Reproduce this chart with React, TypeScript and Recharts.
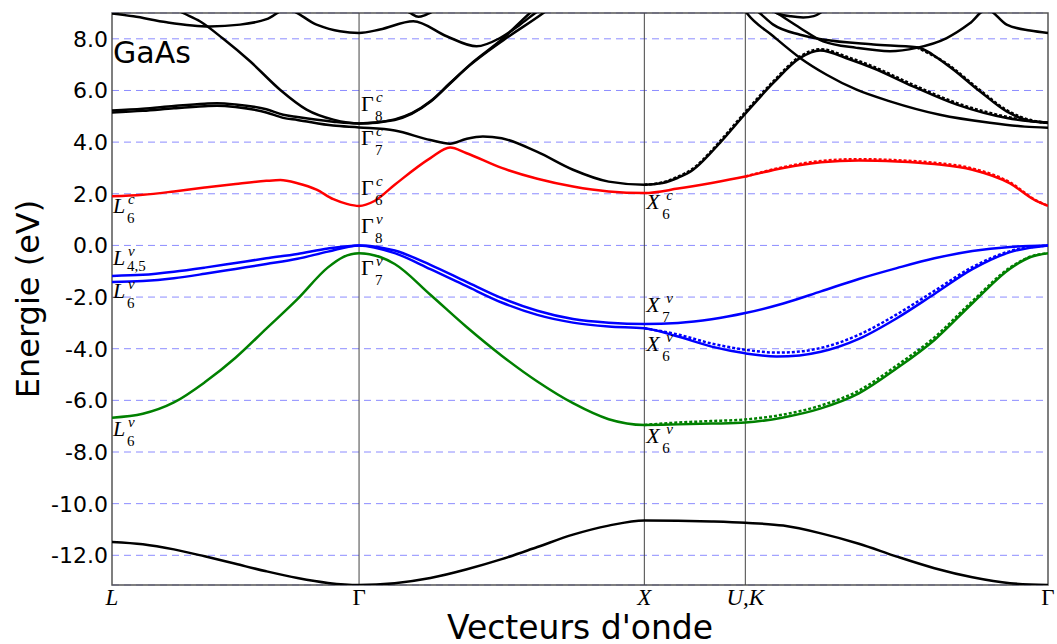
import React from 'react';
import { LineChart, Line, XAxis, YAxis, CartesianGrid, ReferenceLine, ReferenceArea, ReferenceDot } from 'recharts';

type Pt = [number, number];

// path L - Γ - X - U,K - Γ, k in units of 2π/a
const kTicks = [0, 0.866, 1.866, 2.22, 3.281];
const kNames = ['L', 'Γ', 'X', 'U,K', 'Γ'];
const eTicks = [-12, -10, -8, -6, -4, -2, 0, 2, 4, 6, 8];

// black bands
const lowBand: Pt[] = [
  [0, -11.48], [0.108, -11.57], [0.217, -11.77], [0.325, -12.04], [0.433, -12.33], [0.541, -12.62], [0.65, -12.88], [0.757, -13.07], [0.866, -13.15],
  [0.991, -13.08], [1.116, -12.88], [1.241, -12.55], [1.366, -12.15], [1.491, -11.68], [1.616, -11.2], [1.741, -10.85], [1.866, -10.65],
  [1.984, -10.66], [2.102, -10.69], [2.22, -10.74],
  [2.353, -10.85], [2.485, -11.15], [2.618, -11.55], [2.751, -12.05], [2.883, -12.5], [3.016, -12.85], [3.148, -13.08], [3.281, -13.15],
];
const gamma7cBand: Pt[] = [
  [0, 5.15], [0.108, 5.21], [0.217, 5.31], [0.325, 5.39], [0.368, 5.41], [0.433, 5.36], [0.541, 5.15], [0.6, 4.94], [0.65, 4.86], [0.775, 4.64], [0.866, 4.57],
  [0.991, 4.45], [1.116, 4.08], [1.185, 3.94], [1.241, 4.12], [1.3, 4.22], [1.366, 4.15], [1.491, 3.62], [1.616, 2.93], [1.741, 2.47], [1.866, 2.35],
  [1.93, 2.42], [1.984, 2.62], [2.037, 2.93], [2.102, 3.62], [2.131, 3.97], [2.22, 5.1],
  [2.318, 6.29], [2.412, 7.26], [2.482, 7.55], [2.587, 7.2], [2.667, 6.87], [2.808, 6.16], [2.962, 5.45], [3.137, 4.93], [3.281, 4.74],
];
const gamma7cDashed: Pt[] = [
  [1.866, 2.35], [1.93, 2.44], [1.984, 2.66], [2.037, 2.98], [2.102, 3.67], [2.131, 4.03], [2.22, 5.16],
  [2.318, 6.35], [2.412, 7.32], [2.482, 7.6], [2.587, 7.26], [2.667, 6.93], [2.808, 6.22], [2.962, 5.51], [3.137, 4.98], [3.281, 4.74],
];
const gamma8cBand: Pt[] = [
  [0, 5.22], [0.108, 5.29], [0.217, 5.4], [0.325, 5.49], [0.368, 5.51], [0.433, 5.46], [0.541, 5.27], [0.6, 5.06], [0.65, 4.97], [0.775, 4.79], [0.866, 4.72],
  [0.991, 4.88], [1.116, 5.58], [1.185, 6.29], [1.255, 7.0], [1.372, 8.03], [1.465, 9.0], [1.6, 10.2], [1.866, 11],
];
const upperB: Pt[] = [
  [0, 10.6], [0.15, 9.6], [0.249, 9.0], [0.308, 8.68], [0.39, 8.0], [0.484, 7.13], [0.589, 6.03], [0.682, 5.26], [0.776, 4.87], [0.866, 4.72],
  [0.991, 4.86], [1.116, 5.56], [1.185, 6.27], [1.255, 6.98], [1.372, 7.95], [1.512, 9.0], [1.65, 10.2], [1.866, 11],
];
const upperAC: Pt[] = [
  [0, 8.98], [0.075, 8.87], [0.192, 8.64], [0.343, 8.48], [0.449, 8.55], [0.542, 8.76], [0.612, 9.14], [0.717, 8.55], [0.799, 8.29], [0.866, 8.23],
  [0.939, 8.36], [1.056, 8.68], [1.173, 8.1], [1.278, 7.71], [1.36, 8.03], [1.43, 8.55], [1.49, 9.05], [1.65, 10], [1.866, 10.8],
];
const upperD: Pt[] = [[1.0, 9.3], [1.045, 9.0], [1.074, 8.85], [1.1, 8.93], [1.115, 9.0], [1.15, 9.3]];
const upperT: Pt[] = [
  [2.2, 9.8], [2.33, 9.0], [2.412, 8.42], [2.493, 7.9], [2.61, 7.65], [2.727, 7.52], [2.82, 7.65], [2.926, 8.03], [3.007, 8.6], [3.066, 9.14],
  [3.136, 8.55], [3.218, 8.32], [3.281, 8.23],
];
const upperS: Pt[] = [
  [2.2, 9.6], [2.27, 9.0], [2.318, 8.55], [2.412, 8.16], [2.493, 7.97], [2.669, 7.78], [2.82, 7.67], [2.926, 7.0], [3.042, 5.97], [3.136, 5.19], [3.229, 4.8], [3.281, 4.76],
];
const upperSDashed: Pt[] = [[2.82, 7.67], [2.926, 7.04], [3.042, 6.02], [3.136, 5.24], [3.229, 4.83], [3.281, 4.76]];
const upperR: Pt[] = [
  [2.2, 9.4], [2.225, 9.0], [2.318, 8.1], [2.412, 7.26], [2.505, 6.61], [2.61, 6.03], [2.727, 5.58], [2.902, 5.06], [3.077, 4.75], [3.2, 4.6], [3.281, 4.56],
];
const upperArc: Pt[] = [[2.3, 9.3], [2.33, 9.0], [2.38, 8.87], [2.423, 8.83], [2.46, 8.88], [2.482, 9.0], [2.51, 9.3]];

// conduction band (red)
const redBand: Pt[] = [
  [0, 1.9], [0.108, 1.96], [0.217, 2.09], [0.325, 2.24], [0.433, 2.38], [0.541, 2.5], [0.59, 2.53], [0.65, 2.41], [0.717, 2.16], [0.776, 1.79], [0.823, 1.61], [0.866, 1.53],
  [0.92, 1.72], [0.991, 2.35], [1.116, 3.38], [1.185, 3.79], [1.241, 3.58], [1.366, 3.0], [1.491, 2.58], [1.616, 2.28], [1.741, 2.09], [1.866, 2.03],
  [1.984, 2.2], [2.102, 2.42], [2.22, 2.67],
  [2.353, 3.0], [2.485, 3.22], [2.618, 3.29], [2.751, 3.25], [2.883, 3.15], [3.016, 2.93], [3.148, 2.4], [3.235, 1.75], [3.281, 1.53],
];
const redDashed: Pt[] = [
  [2.22, 2.67], [2.353, 3.03], [2.485, 3.27], [2.618, 3.34], [2.751, 3.3], [2.883, 3.2], [3.016, 2.98], [3.148, 2.44], [3.235, 1.77], [3.281, 1.53],
];

// valence bands (blue)
const blueUpper: Pt[] = [
  [0, -1.18], [0.108, -1.14], [0.217, -1.02], [0.325, -0.86], [0.433, -0.68], [0.541, -0.5], [0.65, -0.33], [0.757, -0.12], [0.866, 0],
  [0.991, -0.2], [1.116, -0.75], [1.241, -1.4], [1.366, -2.04], [1.491, -2.53], [1.616, -2.85], [1.741, -2.99], [1.866, -3.04],
  [1.984, -3.0], [2.102, -2.86], [2.22, -2.62],
  [2.353, -2.25], [2.485, -1.78], [2.618, -1.3], [2.751, -0.88], [2.883, -0.5], [3.016, -0.22], [3.148, -0.06], [3.281, 0],
];
const blueLower: Pt[] = [
  [0, -1.42], [0.108, -1.38], [0.217, -1.27], [0.325, -1.1], [0.433, -0.91], [0.541, -0.72], [0.65, -0.52], [0.757, -0.24], [0.866, 0],
  [0.991, -0.3], [1.116, -0.92], [1.241, -1.57], [1.366, -2.21], [1.491, -2.69], [1.616, -2.99], [1.741, -3.14], [1.866, -3.21],
  [1.984, -3.53], [2.102, -3.92], [2.22, -4.18],
  [2.33, -4.3], [2.41, -4.26], [2.485, -4.12], [2.618, -3.62], [2.751, -2.82], [2.883, -1.88], [3.016, -0.92], [3.148, -0.26], [3.281, 0],
];
const blueDashed: Pt[] = [
  [1.866, -3.21], [1.984, -3.45], [2.102, -3.8], [2.22, -4.04],
  [2.33, -4.15], [2.41, -4.11], [2.485, -3.97], [2.618, -3.46], [2.751, -2.67], [2.883, -1.76], [3.016, -0.84], [3.148, -0.22], [3.281, 0],
];

// split-off band (green)
const greenBand: Pt[] = [
  [0, -6.67], [0.108, -6.52], [0.217, -6.08], [0.325, -5.3], [0.433, -4.35], [0.541, -3.22], [0.65, -2.08], [0.757, -0.85], [0.81, -0.45], [0.866, -0.3],
  [0.94, -0.45], [0.991, -0.72], [1.116, -1.91], [1.241, -3.14], [1.366, -4.27], [1.491, -5.27], [1.616, -6.11], [1.741, -6.73], [1.866, -6.95],
  [1.984, -6.93], [2.102, -6.9], [2.22, -6.86],
  [2.353, -6.66], [2.485, -6.31], [2.618, -5.73], [2.751, -4.76], [2.883, -3.66], [3.016, -2.24], [3.148, -0.9], [3.22, -0.45], [3.281, -0.3],
];
const greenDashed: Pt[] = [
  [1.866, -6.95], [1.984, -6.86], [2.102, -6.8], [2.22, -6.74],
  [2.353, -6.55], [2.485, -6.2], [2.618, -5.62], [2.751, -4.65], [2.883, -3.56], [3.016, -2.16], [3.148, -0.86], [3.22, -0.43], [3.281, -0.3],
];

// point labels: [k, energy of baseline, symbol, subscript, superscript]
const bandLabels: [number, number, string, string, string][] = [
  [0.866, 5.22, 'Γ', '8', 'c'],
  [0.866, 3.9, 'Γ', '7', 'c'],
  [0.866, 1.96, 'Γ', '6', 'c'],
  [0.866, 0.49, 'Γ', '8', 'v'],
  [0.866, -1.14, 'Γ', '7', 'v'],
  [1.866, 1.42, 'X', '6', 'c'],
  [1.866, -2.56, 'X', '7', 'v'],
  [1.866, -4.09, 'X', '6', 'v'],
  [1.866, -7.65, 'X', '6', 'v'],
  [0, 1.26, 'L', '6', 'c'],
  [0, -0.76, 'L', '4,5', 'v'],
  [0, -2.03, 'L', '6', 'v'],
  [0, -7.38, 'L', '6', 'v'],
];

const blackBands = [lowBand, gamma7cBand, gamma8cBand, upperB, upperAC, upperD, upperT, upperS, upperR, upperArc];
const coloredBands: [Pt[], string][] = [[redBand, '#ff0000'], [blueUpper, '#0000ff'], [blueLower, '#0000ff'], [greenBand, '#008000']];
const dashedBands: [Pt[], string][] = [
  [gamma7cDashed, '#000'], [upperSDashed, '#000'], [redDashed, '#ff0000'], [blueDashed, '#0000ff'], [greenDashed, '#008000'],
];

const toPts = (arr: Pt[]) => arr.map(([k, e]) => ({ k, e }));

const XTick = ({ x, y, payload }: any) => {
  const name = kNames[kTicks.indexOf(payload.value)];
  return (
    <text x={x} y={y} dy={20} textAnchor="middle" fontFamily="Liberation Serif" fontSize={23}
      fontStyle={name === 'Γ' ? 'normal' : 'italic'} fill="#000">
      {name}
    </text>
  );
};

const YTick = ({ x, y, payload }: any) => (
  <text x={x} y={y} dy={8} textAnchor="end" fontFamily="DejaVu Sans" fontSize={22} fill="#000">
    {payload.value.toFixed(1)}
  </text>
);

const BandLabel = ({ cx, cy, main, sub, sup }: any) => {
  const w = main === 'Γ' ? 14 : main === 'X' ? 16 : 14;
  const x0 = cx + (main === 'L' ? 1 : 2);
  const subDy = sub.length > 1 ? 6 : 10;
  return (
    <g fontFamily="Liberation Serif" fill="#000">
      <text x={x0} y={cy} fontSize={22} fontStyle={main === 'Γ' ? 'normal' : 'italic'}>{main}</text>
      <text x={x0 + w + (main === 'X' ? 4 : 1)} y={cy - 9} fontSize={15} fontStyle="italic">{sup}</text>
      <text x={x0 + w} y={cy + subDy} fontSize={15}>{sub}</text>
    </g>
  );
};

export default function App() {
  return (
    <div style={{ position: 'absolute', left: 0, top: 0, background: '#fff' }}>
      <LineChart width={1057} height={644} margin={{ top: 13, right: 9, bottom: 0, left: 0 }}>
        <CartesianGrid vertical={false} stroke="#8c8cff" strokeDasharray="7 5" />
        <XAxis
          type="number"
          dataKey="k"
          domain={[0, 3.281]}
          ticks={kTicks}
          interval={0}
          allowDataOverflow
          height={59}
          axisLine={false}
          tickLine={false}
          tickSize={0}
          tickMargin={0}
          tick={<XTick />}
          label={{
            content: ({ viewBox }: any) => (
              <text x={viewBox.x + viewBox.width / 2} y={viewBox.y + viewBox.height - 5} textAnchor="middle"
                fontFamily="DejaVu Sans" fontSize={33} fill="#000">
                Vecteurs d'onde
              </text>
            ),
          }}
        />
        <YAxis
          type="number"
          domain={[-13.15, 9]}
          ticks={eTicks}
          interval={0}
          allowDataOverflow
          width={112}
          axisLine={false}
          tickLine={false}
          tickSize={0}
          tickMargin={4}
          tick={<YTick />}
          label={{
            content: ({ viewBox }: any) => {
              const cx = viewBox.x + 39;
              const cy = viewBox.y + viewBox.height / 2;
              return (
                <text x={cx} y={cy} transform={`rotate(-90 ${cx} ${cy})`} textAnchor="middle"
                  fontFamily="DejaVu Sans" fontSize={32} fill="#000">
                  Energie (eV)
                </text>
              );
            },
          }}
        />
        {kTicks.slice(1, 4).map((k) => (
          <ReferenceLine key={k} x={k} stroke="#444" strokeWidth={1} />
        ))}
        {blackBands.map((b, i) => (
          <Line key={'b' + i} data={toPts(b)} dataKey="e" type="monotone" stroke="#000" strokeWidth={2.5}
            dot={false} activeDot={false} isAnimationActive={false} />
        ))}
        {coloredBands.map(([b, c], i) => (
          <Line key={'c' + i} data={toPts(b)} dataKey="e" type="monotone" stroke={c} strokeWidth={2.5}
            dot={false} activeDot={false} isAnimationActive={false} />
        ))}
        {dashedBands.map(([b, c], i) => (
          <Line key={'d' + i} data={toPts(b)} dataKey="e" type="monotone" stroke={c} strokeWidth={2.5}
            strokeDasharray="3 2" dot={false} activeDot={false} isAnimationActive={false} />
        ))}
        <ReferenceArea x1={0} x2={3.281} y1={-13.15} y2={9} fill="none" stroke="#555" strokeWidth={1.5} ifOverflow="visible" />
        {bandLabels.map(([k, e, main, sub, sup], i) => (
          <ReferenceDot key={'l' + i} x={k} y={e} r={0} ifOverflow="visible"
            shape={(p: any) => <BandLabel cx={p.cx} cy={p.cy} main={main} sub={sub} sup={sup} />} />
        ))}
        <ReferenceDot x={0} y={7.08} r={0} ifOverflow="visible"
          shape={(p: any) => (
            <text x={p.cx + 1} y={p.cy} fontFamily="DejaVu Sans" fontSize={30} fill="#000">GaAs</text>
          )} />
      </LineChart>
    </div>
  );
}
